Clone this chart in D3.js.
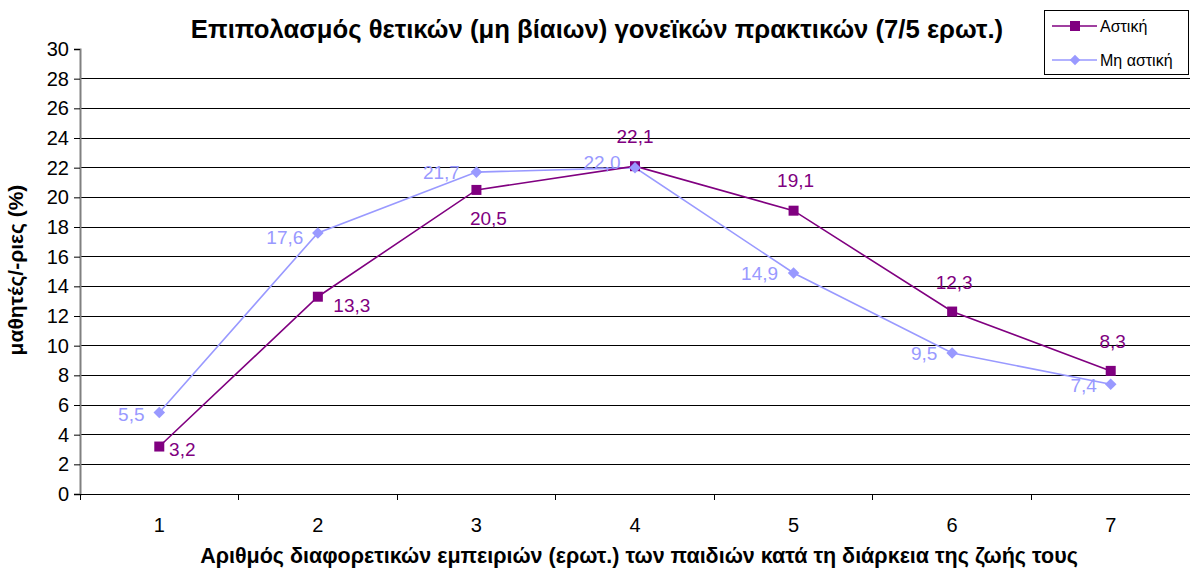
<!DOCTYPE html>
<html>
<head>
<meta charset="utf-8">
<script src="https://cdn.jsdelivr.net/npm/d3@7"></script>
<style>
  html, body { margin: 0; padding: 0; background: #fff; }
  svg { display: block; font-family: "Liberation Sans", Arial, sans-serif; }
</style>
</head>
<body>
<svg id="chart" width="1190" height="570"></svg>
<script>
// Number of different experiences (categories on the x axis)
const categories = ["1", "2", "3", "4", "5", "6", "7"];
// Percent of pupils, urban schools
const urbanValues = [3.2, 13.3, 20.5, 22.1, 19.1, 12.3, 8.3];
// Percent of pupils, non-urban schools
const ruralValues = [5.5, 17.6, 21.7, 22.0, 14.9, 9.5, 7.4];
const seriesNames = ["Αστική", "Μη αστική"];
const yTicks = [0, 2, 4, 6, 8, 10, 12, 14, 16, 18, 20, 22, 24, 26, 28, 30];

const svg = d3.select("#chart");
const margin = { left: 80, right: 0, top: 49, bottom: 76 };
const W = 1190, H = 570;

const x = d3.scaleBand().domain(categories).range([margin.left, W - margin.right]);
const y = d3.scaleLinear().domain([0, 30]).range([H - margin.bottom, margin.top]);

const fmt = v => v.toFixed(1).replace(".", ",");

// horizontal gridlines
svg.append("g")
  .selectAll("line")
  .data(yTicks.filter(t => t > 0 && t < 30))
  .join("line")
  .attr("x1", margin.left).attr("x2", W)
  .attr("y1", d => y(d)).attr("y2", d => y(d))
  .attr("stroke", "#000").attr("stroke-width", 1)
  .attr("shape-rendering", "crispEdges");

// y axis
const yAxis = svg.append("g")
  .attr("transform", `translate(${margin.left},0)`)
  .call(d3.axisLeft(y).tickValues(yTicks).tickSize(6).tickPadding(5).tickFormat(d => d));
yAxis.select(".domain").attr("stroke", "#808080").attr("stroke-width", 2);
yAxis.selectAll(".tick line").attr("stroke", "#000");
yAxis.selectAll("text").attr("font-size", 20).attr("fill", "#000")
  .attr("font-family", "Liberation Sans, Arial, sans-serif");

// x axis with ticks between categories
const xAxisG = svg.append("g").attr("transform", `translate(0,${y(0)})`);
xAxisG.append("line")
  .attr("x1", margin.left).attr("x2", W)
  .attr("y1", 0).attr("y2", 0)
  .attr("stroke", "#000").attr("stroke-width", 1).attr("shape-rendering", "crispEdges");
xAxisG.selectAll("line.sep")
  .data(categories)
  .join("line").attr("class", "sep")
  .attr("x1", d => x(d)).attr("x2", d => x(d))
  .attr("y1", 0).attr("y2", 6)
  .attr("stroke", "#000").attr("shape-rendering", "crispEdges");
xAxisG.selectAll("text")
  .data(categories)
  .join("text")
  .attr("x", d => x(d) + x.bandwidth() / 2)
  .attr("y", 38)
  .attr("text-anchor", "middle")
  .attr("font-size", 20)
  .text(d => d);

// title
svg.append("text")
  .attr("x", 597).attr("y", 38)
  .attr("text-anchor", "middle")
  .attr("font-size", 25.7).attr("font-weight", "bold")
  .text("Επιπολασμός θετικών (μη βίαιων) γονεϊκών πρακτικών (7/5 ερωτ.)");

// axis titles
svg.append("text")
  .attr("x", 639).attr("y", 563)
  .attr("text-anchor", "middle")
  .attr("font-size", 21.5).attr("font-weight", "bold")
  .text("Αριθμός διαφορετικών εμπειριών (ερωτ.) των παιδιών κατά τη διάρκεια της ζωής τους");
svg.append("text")
  .attr("transform", "translate(23,270) rotate(-90)")
  .attr("text-anchor", "middle")
  .attr("font-size", 21).attr("font-weight", "bold")
  .text("μαθητές/-ριες (%)");

const cx = c => x(c) + x.bandwidth() / 2;
const line = d3.line().x(d => cx(d.c)).y(d => y(d.v));

const urban = categories.map((c, i) => ({ c, v: urbanValues[i] }));
const rural = categories.map((c, i) => ({ c, v: ruralValues[i] }));
const purple = "#800080", lilac = "#9999FF";

// non-urban series
svg.append("path").datum(rural).attr("d", line)
  .attr("fill", "none").attr("stroke", lilac).attr("stroke-width", 1.6);
// urban series
svg.append("path").datum(urban).attr("d", line)
  .attr("fill", "none").attr("stroke", purple).attr("stroke-width", 1.6);

svg.append("g").selectAll("rect")
  .data(urban).join("rect")
  .attr("x", d => cx(d.c) - 5).attr("y", d => y(d.v) - 5)
  .attr("width", 10).attr("height", 10).attr("fill", purple);

const diamond = d3.symbol().type(d3.symbolDiamond2).size(85);
svg.append("g").selectAll("path")
  .data(rural).join("path")
  .attr("transform", d => `translate(${cx(d.c)},${y(d.v)})`)
  .attr("d", diamond).attr("fill", lilac);

// data labels: offsets relative to each point
const urbanOffsets = [[23, 9], [34, 15], [12, 35], [0, -23], [2, -24], [2, -23], [2, -23]];
const ruralOffsets = [[-28, 9], [-33, 11], [-35, 7], [-33, 1], [-34, 7], [-28, 7], [-27, 8]];

svg.append("g").selectAll("text")
  .data(rural).join("text")
  .attr("x", (d, i) => cx(d.c) + ruralOffsets[i][0])
  .attr("y", (d, i) => y(d.v) + ruralOffsets[i][1])
  .attr("text-anchor", "middle")
  .attr("font-size", 19).attr("fill", lilac)
  .text(d => fmt(d.v));

svg.append("g").selectAll("text")
  .data(urban).join("text")
  .attr("x", (d, i) => cx(d.c) + urbanOffsets[i][0])
  .attr("y", (d, i) => y(d.v) + urbanOffsets[i][1])
  .attr("text-anchor", "middle")
  .attr("font-size", 19).attr("fill", purple)
  .text(d => fmt(d.v));

// legend
const lg = svg.append("g").attr("transform", "translate(1044,10)");
lg.append("rect").attr("x", 0.5).attr("y", 0.5).attr("width", 144).attr("height", 64)
  .attr("fill", "#fff").attr("stroke", "#000");
const legendRows = [
  { name: seriesNames[0], color: purple, sym: "square", yy: 16 },
  { name: seriesNames[1], color: lilac, sym: "diamond", yy: 50 }
];
legendRows.forEach(r => {
  lg.append("line").attr("x1", 8).attr("x2", 53).attr("y1", r.yy).attr("y2", r.yy)
    .attr("stroke", r.color).attr("stroke-width", 1.6);
  if (r.sym === "square") {
    lg.append("rect").attr("x", 26).attr("y", r.yy - 5).attr("width", 10).attr("height", 10)
      .attr("fill", r.color);
  } else {
    lg.append("path").attr("transform", `translate(31,${r.yy})`)
      .attr("d", d3.symbol().type(d3.symbolDiamond2).size(70)).attr("fill", r.color);
  }
  lg.append("text").attr("x", 56).attr("y", r.yy + 6)
    .attr("font-size", 16).text(r.name);
});
</script>
</body>
</html>
